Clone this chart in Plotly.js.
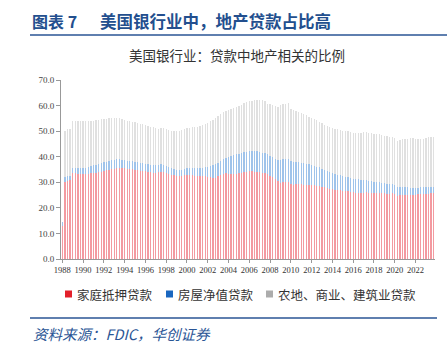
<!DOCTYPE html>
<html>
<head>
<meta charset="utf-8">
<script src="https://cdn.plot.ly/plotly-3.0.1.min.js"></script>
<style>html,body{margin:0;padding:0;background:#fff;}#chart{width:447px;height:347px;}</style>
</head>
<body>
<div id="chart"></div>
<script>
// Years shown, quarterly data 1988Q1 - 2023Q4
const years = [1988,1989,1990,1991,1992,1993,1994,1995,1996,1997,1998,1999,2000,2001,2002,2003,2004,2005,2006,2007,2008,2009,2010,2011,2012,2013,2014,2015,2016,2017,2018,2019,2020,2021,2022,2023];
const tickYears = [1988,1990,1992,1994,1996,1998,2000,2002,2004,2006,2008,2010,2012,2014,2016,2018,2020,2022];
const seriesNames = ['家庭抵押贷款','房屋净值贷款','农地、商业、建筑业贷款'];

// 家庭抵押贷款 share (%), by quarter
const mortgage = [
12.8,30.3,30.6,30.9, 33.6,33.5,33.4,33.3, 33.3,33.2,33.4,33.5, 33.7,33.8,34.0,34.2,
34.5,34.7,34.9,35.1, 35.3,35.5,35.6,35.5, 35.4,35.3,35.2,35.2, 35.0,34.8,34.6,34.5,
34.3,34.1,33.9,33.8, 33.7,33.9,34.0,33.9, 33.6,33.2,32.9,32.7, 32.6,32.5,32.6,32.7,
32.7,32.8,32.7,32.6, 32.6,32.5,32.4,32.3, 32.2,32.0,31.6,31.8, 32.4,32.9,33.3,33.6,
33.4,33.3,33.2,33.4, 33.6,33.8,34.0,34.2, 34.3,34.3,34.2,34.2, 34.0,33.8,33.6,33.2,
32.6,32.0,31.2,30.4, 29.8,30.0,30.2,30.1, 29.2,29.0,29.3,29.4, 29.2,29.1,29.0,29.0,
28.9,28.8,28.7,28.6, 28.3,28.0,27.7,27.5, 27.2,27.0,26.9,26.8, 26.6,26.5,26.4,26.3,
26.1,26.0,26.0,26.0, 26.0,26.1,26.0,25.9, 25.8,25.8,25.7,25.7, 25.7,25.6,25.6,25.7,
25.4,24.7,24.9,25.2, 25.2,25.1,25.1,25.2, 25.2,25.3,25.3,25.4, 25.5,25.6,25.7,25.7
];
// 房屋净值贷款 share (%)
const homeEquity = [
1.5,1.9,1.8,1.7, 2.0,2.1,2.1,2.2, 2.2,2.4,2.6,2.7, 3.0,3.1,3.2,3.3,
3.4,3.4,3.4,3.5, 3.5,3.5,3.4,3.4, 3.3,3.2,3.1,3.1, 3.1,3.0,3.0,2.9,
2.9,2.9,3.0,3.0, 2.9,2.9,3.0,3.0, 2.8,2.6,2.5,2.4, 2.3,2.3,2.4,2.5,
2.7,2.7,2.8,2.9, 2.9,3.0,3.2,3.5, 3.8,4.2,5.0,5.2, 5.2,5.4,5.7,6.0,
6.6,7.0,7.4,7.6, 7.6,7.7,7.7,7.8, 8.0,8.0,8.0,7.9, 7.9,7.8,7.8,7.7,
7.8,7.9,8.1,8.4, 9.0,9.1,9.1,9.1, 9.1,9.0,8.8,8.6, 8.5,8.4,8.2,8.0,
7.8,7.6,7.4,7.2, 7.0,6.8,6.6,6.4, 6.3,6.1,6.0,5.9, 5.7,5.6,5.5,5.4,
5.3,5.2,5.1,5.0, 4.9,4.7,4.6,4.6, 4.5,4.3,4.3,4.2, 4.0,3.9,3.8,3.7,
3.4,3.3,3.2,3.1, 3.0,2.9,2.8,2.7, 2.7,2.6,2.7,2.6, 2.6,2.5,2.5,2.5
];
// 农地、商业、建筑业贷款 share (%)
const commercial = [
0.0,17.8,18.5,18.3, 18.5,18.4,18.4,18.3, 18.5,18.3,18.1,17.8, 17.4,17.5,17.3,17.1,
16.8,16.7,16.7,16.4, 16.3,16.2,16.1,15.9, 15.7,15.6,15.5,15.3, 15.3,15.3,15.2,15.2,
15.1,15.0,14.9,14.8, 14.6,14.2,14.3,14.5, 14.6,14.8,14.8,14.8, 15.0,15.2,15.3,15.5,
15.8,15.9,16.0,16.1, 16.2,16.5,16.7,17.0, 17.3,17.6,17.9,18.2, 18.4,18.3,18.3,18.2,
18.2,18.3,18.4,18.4, 18.6,18.8,19.2,19.3, 19.3,19.5,19.8,20.0, 20.3,20.4,20.2,19.9,
20.2,20.5,20.7,20.6, 21.4,21.6,21.5,21.7, 20.3,20.4,19.9,19.4, 19.3,19.1,19.0,18.7,
18.5,18.4,18.2,17.9, 17.8,17.7,17.7,17.7, 17.7,17.9,17.9,17.8, 17.9,17.9,18.0,18.0,
18.0,18.1,18.2,18.4, 18.7,18.7,18.8,18.7, 18.7,18.8,18.8,18.6, 18.5,18.5,18.4,18.4,
18.4,18.2,18.3,18.6, 18.8,19.0,19.3,19.4, 19.1,18.9,18.9,19.0, 19.2,19.5,19.6,19.6
];

const quarters = [];
years.forEach(y => { for (let q = 1; q <= 4; q++) quarters.push(y + 'Q' + q); });

const legendColors = ['#e3202a', '#1a67c0', '#acacac'];
const barColors = ['#f39aa0', '#9fc3ea', '#e0e0e0'];
const values = [mortgage, homeEquity, commercial];
const traces = values.map((v, i) => ({
  type: 'bar', x: quarters, y: v, name: seriesNames[i],
  marker: {color: barColors[i], line: {width: 0}},
  hoverinfo: 'skip', showlegend: false
}));

// paper-coordinate helpers (plot area: x 61..435 px, y 80..259 px)
const px = p => (p - 61) / 374;
const py = p => (259 - p) / 179;

// custom legend
const legendX = [65, 166, 266];
const legendY = 294;
const shapes = [
  {type: 'line', xref: 'paper', yref: 'paper', x0: px(30), x1: px(447), y0: py(35), y1: py(35), line: {color: '#2a5595', width: 1.5}},
  {type: 'line', xref: 'paper', yref: 'paper', x0: px(30), x1: px(437), y0: py(318), y1: py(318), line: {color: '#2a5595', width: 1.5}}
];
const annotations = [
  {xref: 'paper', yref: 'paper', x: px(30), y: py(21), xanchor: 'left', yanchor: 'middle', showarrow: false,
   text: '<b>图表\u00a07</b>', font: {family: 'Noto Sans CJK SC', size: 16, color: '#234f8e'}},
  {xref: 'paper', yref: 'paper', x: px(98), y: py(21), xanchor: 'left', yanchor: 'middle', showarrow: false,
   text: '<b>美国银行业中，地产贷款占比高</b>', font: {family: 'Noto Sans CJK SC', size: 16.5, color: '#234f8e'}},
  {xref: 'paper', yref: 'paper', x: px(237), y: py(55), xanchor: 'center', yanchor: 'middle', showarrow: false,
   text: '美国银行业：贷款中地产相关的比例', font: {family: 'Noto Sans CJK SC', size: 13.5, color: '#333'}},
  {xref: 'paper', yref: 'paper', x: px(31), y: py(333), xanchor: 'left', yanchor: 'middle', showarrow: false,
   text: '<i>资料来源：FDIC，华创证券</i>', font: {family: 'Noto Sans CJK SC', size: 14.5, color: '#2a5595'}}
];
seriesNames.forEach((n, i) => {
  shapes.push({type: 'rect', xref: 'paper', yref: 'paper', x0: px(legendX[i]), x1: px(legendX[i] + 7),
    y0: py(legendY + 3.5), y1: py(legendY - 3.5), fillcolor: legendColors[i], line: {width: 0}});
  annotations.push({xref: 'paper', yref: 'paper', x: px(legendX[i] + 10), y: py(legendY), xanchor: 'left', yanchor: 'middle',
    showarrow: false, text: n, font: {family: 'Noto Sans CJK SC', size: 12.5, color: '#333'}});
});

const layout = {
  width: 447, height: 347,
  margin: {l: 61, r: 12, t: 80, b: 88},
  paper_bgcolor: '#ffffff', plot_bgcolor: '#ffffff',
  barmode: 'stack', bargap: 0.5,
  showlegend: false,
  xaxis: {
    type: 'category', categoryorder: 'array', categoryarray: quarters,
    tickmode: 'array', tickvals: tickYears.map(y => y + 'Q1'), ticktext: tickYears.map(String),
    showgrid: false, showline: true, linecolor: '#999', linewidth: 1,
    ticks: 'outside', ticklen: 3, tickcolor: '#999',
    tickfont: {family: 'Liberation Serif', size: 8.5, color: '#333'},
    tickangle: 0, range: [-0.5, quarters.length - 0.5], fixedrange: true
  },
  yaxis: {
    range: [0, 70], tickvals: [0,10,20,30,40,50,60,70],
    tickformat: '.1f', ticksuffix: '%',
    showgrid: false, zeroline: false, showline: true, linecolor: '#999', linewidth: 1,
    ticks: 'outside', ticklen: 4, tickcolor: '#999',
    tickfont: {family: 'Liberation Serif', size: 9, color: '#444'}, fixedrange: true
  },
  shapes: shapes,
  annotations: annotations
};

Plotly.newPlot('chart', traces, layout, {staticPlot: true, displayModeBar: false});
</script>
</body>
</html>
